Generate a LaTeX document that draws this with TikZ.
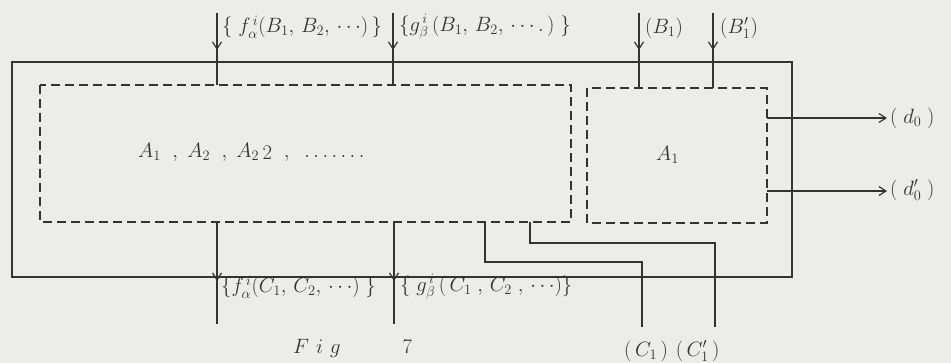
\documentclass[tikz,border=0pt]{standalone}
\usetikzlibrary{arrows.meta}
\definecolor{ink}{HTML}{333333}
\definecolor{paper}{HTML}{ECECEA}
\begin{document}
\begin{tikzpicture}[x=1pt,y=-1pt,
  solidln/.style={draw=ink,line width=1.2pt},
  dashln/.style={draw=ink,line width=1.2pt,dash pattern=on 9pt off 5pt},
  arr/.style={draw=ink,line width=1.2pt,-{Straight Barb[length=7pt,width=9pt]}},
  lbl/.style={text=ink,inner sep=0pt,anchor=west,font=\fontsize{22}{26}\selectfont}]
\fill[paper] (0,0) rectangle (951,363);
\useasboundingbox (0,0) rectangle (951,363);
% coordinates
\coordinate (o1) at (12,62);   \coordinate (o2) at (792,277);
\coordinate (d1) at (40,85);   \coordinate (d2) at (571,222);
\coordinate (a1) at (587,88);  \coordinate (a2) at (767,223);
% outer solid rectangle
\draw[solidln] (o1) rectangle (o2);
% dashed rectangles
\draw[dashln] (d1) rectangle (d2);
\draw[dashln] (a1) rectangle (a2);
% top inputs
\foreach \x/\n in {217/fa,393/gb}{
  \coordinate (\n s) at (\x,13); \coordinate (\n m) at (\x,50); \coordinate (\n e) at (\x,85);
  \draw[solidln] (\n s) -- (\n e);
  \draw[arr] (\n s) -- (\n m);
}
\foreach \x/\n in {639/b1,713/b2}{
  \coordinate (\n s) at (\x,13); \coordinate (\n m) at (\x,50); \coordinate (\n e) at (\x,88);
  \draw[solidln] (\n s) -- (\n e);
  \draw[arr] (\n s) -- (\n m);
}
% bottom outputs
\foreach \x/\n in {217/fc,394/gc}{
  \coordinate (\n s) at (\x,222); \coordinate (\n m) at (\x,281); \coordinate (\n e) at (\x,324);
  \draw[solidln] (\n s) -- (\n e);
  \draw[arr] (\n s) -- (\n m);
}
% C lines
\coordinate (c1s) at (485,222); \coordinate (c1e) at (642,327);
\coordinate (c2s) at (530,222); \coordinate (c2e) at (715,327);
\draw[solidln] (c1s) |- (642,262) -- (c1e);
\draw[solidln] (c2s) |- (715,243) -- (c2e);
% d outputs
\coordinate (dd0s) at (767,118); \coordinate (dd0e) at (887,118);
\coordinate (dd1s) at (767,191); \coordinate (dd1e) at (887,191);
\draw[arr] (dd0s) -- (dd0e);
\draw[arr] (dd1s) -- (dd1e);
% labels
\node[lbl] (tfa) at (222,27) {$\{\;f^{\,i}_{\alpha}(B_1,\,B_2,\,\cdots)\,\}$};
\node[lbl] (tgb) at (399,27) {$\{g^{\,i}_{\beta}\,(B_1,\,B_2,\,\cdots.\,)\;\}$};
\node[lbl] (tb1) at (645,28) {$(B_1)$};
\node[lbl] (tb2) at (720,28) {$(B_1')$};
\node[lbl] (tA) at (138,152) {$A_1\;\;,\;A_2\;\;,\;A_{2}\,\raisebox{-0.12em}{$2$}\;\;,\;\;.\,.\,.\,.\,.\,.\,.$};
\node[lbl] (tA1) at (656,155) {$A_1$};
\node[lbl] (td0) at (890,118) {$(\;d_0\;)$};
\node[lbl] (td1) at (890,190) {$(\;d_0'\;)$};
\node[lbl] (tfc) at (221,287) {$\{f^{\,i}_{\alpha}(C_1,\,C_2,\,\cdots)\;\}$};
\node[lbl] (tgc) at (400,287) {$\{\;g^{\,i}_{\beta}\,(\,C_1\;,\,C_2\;,\,\cdots)\}$};
\node[lbl] (tfig) at (293,348) {$F$\hspace{7pt}$i$\hspace{7pt}$g$\hspace{62pt}$7$};
\node[lbl] (tc) at (624,351) {$(\,C_1\,)$\hspace{8pt}$(\,C_1'\,)$};
\end{tikzpicture}
\end{document}
